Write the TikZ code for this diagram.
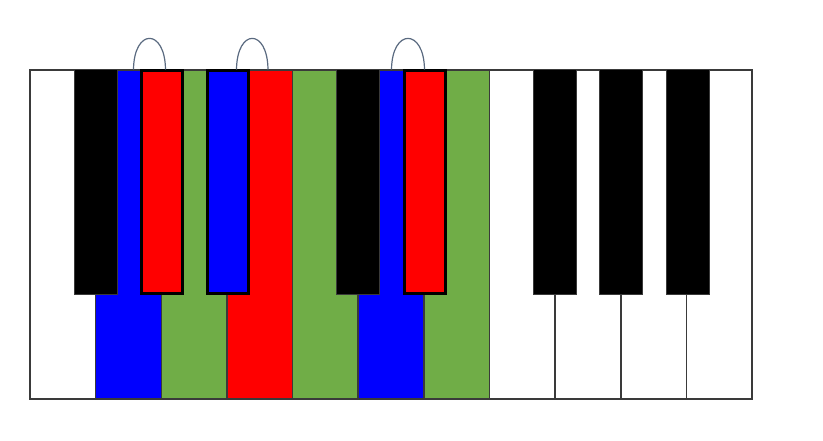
\documentclass[tikz,border=0pt]{standalone}
\usetikzlibrary{calc}
\definecolor{kgreen}{HTML}{70AD47}
\definecolor{kblue}{HTML}{0000FF}
\definecolor{kred}{HTML}{FF0000}
\definecolor{tiecol}{HTML}{5A6A80}
\definecolor{edgegray}{HTML}{3A3A3A}
\tikzset{
  whitekey/.style={rectangle, inner sep=0pt, outer sep=0pt,
    minimum width=65.64pt, minimum height=329pt, anchor=north west},
  keyedge/.style={draw=edgegray, line width=1.5pt},
  blackkey/.style={rectangle, draw=edgegray, fill=black, line width=0.8pt, inner sep=0pt, outer sep=0pt,
    minimum width=43.2pt, minimum height=225.2pt, anchor=north},
  markedkey/.style={rectangle, draw=black, line width=3pt, inner sep=0pt, outer sep=0pt,
    minimum width=41pt, minimum height=223pt, anchor=north},
  tie/.style={draw=tiecol, line width=1.2pt}
}
\begin{document}
\begin{tikzpicture}[x=1pt, y=-1pt]
\useasboundingbox (0,0) rectangle (823,440);
\fill[white] (0,0) rectangle (823,440);
% white keys (fills)
\foreach \c [count=\i from 0] in {white,kblue,kgreen,kred,kgreen,kblue,kgreen,white,white,white,white}
  \node[whitekey, fill=\c] (w\i) at ({30+65.64*\i},70) {};
% white key outlines
\foreach \i in {0,...,10}
  \draw[keyedge] (w\i.north west) rectangle (w\i.south east);
% black keys
\node[blackkey] (b1) at (95.5,69.4) {};
\node[markedkey, fill=kred] (b2) at (162,70.5) {};
\node[markedkey, fill=kblue] (b3) at (228,70.5) {};
\node[blackkey] (b4) at (358,69.4) {};
\node[markedkey, fill=kred] (b5) at (424.5,70.5) {};
\node[blackkey] (b6) at (554.7,69.4) {};
\node[blackkey] (b7) at (620.8,69.4) {};
\node[blackkey] (b8) at (687.5,69.4) {};
% ties
\coordinate (t1a) at (133.5,69.5);
\coordinate (t1b) at (165.5,69.5);
\coordinate (t2a) at (236.5,69.5);
\coordinate (t2b) at (268,69.5);
\coordinate (t3a) at (391.5,69.5);
\coordinate (t3b) at (424.5,69.5);
\draw[tie] (t1a) .. controls (134,28) and (165,28) .. (t1b);
\draw[tie] (t2a) .. controls (237,28) and (267.5,28) .. (t2b);
\draw[tie] (t3a) .. controls (392,28) and (424,28) .. (t3b);
\end{tikzpicture}
\end{document}
